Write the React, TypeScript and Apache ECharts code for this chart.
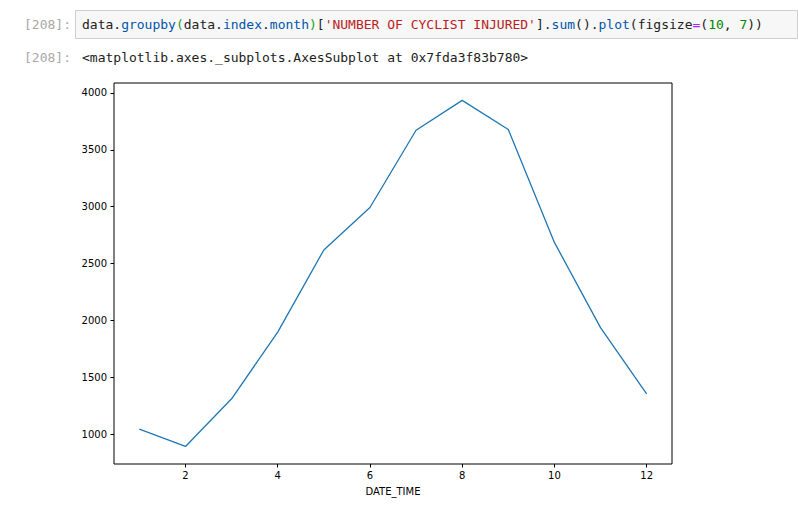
import React, { useEffect, useRef } from "react";
import * as echarts from "echarts";

const months = [1, 2, 3, 4, 5, 6, 7, 8, 9, 10, 11, 12];
const injured = [1045, 893, 1312, 1898, 2620, 2993, 3672, 3934, 3678, 2686, 1937, 1356];
const xTicks = [2, 4, 6, 8, 10, 12];
const yTicks = [1000, 1500, 2000, 2500, 3000, 3500, 4000];
const xName = "DATE_TIME";
const promptText = "[208]:";
const outputText = "<matplotlib.axes._subplots.AxesSubplot at 0x7fda3f83b780>";

const MONO = "'DejaVu Sans Mono', monospace";
const SANS = "'DejaVu Sans', sans-serif";

export default function App() {
  const ref = useRef<HTMLDivElement>(null);
  useEffect(() => {
    if (!ref.current) return;
    const chart = echarts.init(ref.current, null, { renderer: "svg" });
    const option: any = {
      animation: false,
      backgroundColor: "#ffffff",
      grid: {
        left: 114,
        right: 126,
        top: 83,
        bottom: 47,
        show: true,
        borderColor: "#000000",
        borderWidth: 1,
        backgroundColor: "transparent",
      },
      xAxis: {
        type: "value",
        min: 0.45,
        max: 12.55,
        name: xName,
        nameLocation: "middle",
        nameGap: 22,
        nameTextStyle: { fontFamily: SANS, fontSize: 10, color: "#000" },
        axisLine: { show: false },
        axisTick: { show: true, length: 3.5, lineStyle: { color: "#000" }, customValues: xTicks },
        axisLabel: {
          fontFamily: SANS,
          fontSize: 10,
          color: "#000",
          margin: 6,
          customValues: xTicks,
          formatter: (v: number) => String(v),
        },
        splitLine: { show: false },
      },
      yAxis: {
        type: "value",
        min: 739,
        max: 4087,
        axisLine: { show: false },
        axisTick: { show: true, length: 3.5, lineStyle: { color: "#000" }, customValues: yTicks },
        axisLabel: {
          fontFamily: SANS,
          fontSize: 10,
          color: "#000",
          margin: 7,
          customValues: yTicks,
          formatter: (v: number) => String(v),
        },
        splitLine: { show: false },
      },
      series: [
        {
          type: "line",
          data: months.map((m, i) => [m, injured[i]]),
          showSymbol: false,
          lineStyle: { color: "#1f77b4", width: 1.3 },
          itemStyle: { color: "#1f77b4" },
        },
      ],
      graphic: [
        {
          type: "rect",
          shape: { x: 75.5, y: 10.5, width: 722, height: 28 },
          style: { fill: "#f7f7f7", stroke: "#cfcfcf", lineWidth: 1 },
        },
        {
          type: "text",
          x: 24,
          y: 24,
          style: { text: promptText, fontFamily: MONO, fontSize: 13, fill: "#a8a8a8", verticalAlign: "middle" },
        },
        {
          type: "text",
          x: 82,
          y: 24,
          style: {
            text:
              "{d|data.}{p|groupby}{g|(}{d|data.}{p|index}{d|.}{p|month}{g|)}{d|[}{s|'NUMBER OF CYCLIST INJURED'}{d|].}{p|sum}{d|().}{p|plot}{d|(figsize}{o|=}{d|(}{n|10}{d|, }{n|7}{d|))}",
            fontFamily: MONO,
            fontSize: 13,
            verticalAlign: "middle",
            rich: {
              d: { fontFamily: MONO, fontSize: 13, fill: "#212121" },
              p: { fontFamily: MONO, fontSize: 13, fill: "#0055aa" },
              g: { fontFamily: MONO, fontSize: 13, fill: "#22a022" },
              s: { fontFamily: MONO, fontSize: 13, fill: "#ba2121" },
              o: { fontFamily: MONO, fontSize: 13, fill: "#aa22ff" },
              n: { fontFamily: MONO, fontSize: 13, fill: "#008800" },
            },
          },
        },
        {
          type: "text",
          x: 24,
          y: 57,
          style: { text: promptText, fontFamily: MONO, fontSize: 13, fill: "#a8a8a8", verticalAlign: "middle" },
        },
        {
          type: "text",
          x: 82,
          y: 57,
          style: { text: outputText, fontFamily: MONO, fontSize: 13, fill: "#212121", verticalAlign: "middle" },
        },
      ],
    };
    chart.setOption(option);
    return () => chart.dispose();
  }, []);
  return (
    <div
      ref={ref}
      style={{ position: "absolute", left: 0, top: 0, width: 798, height: 511, background: "#fff" }}
    />
  );
}
